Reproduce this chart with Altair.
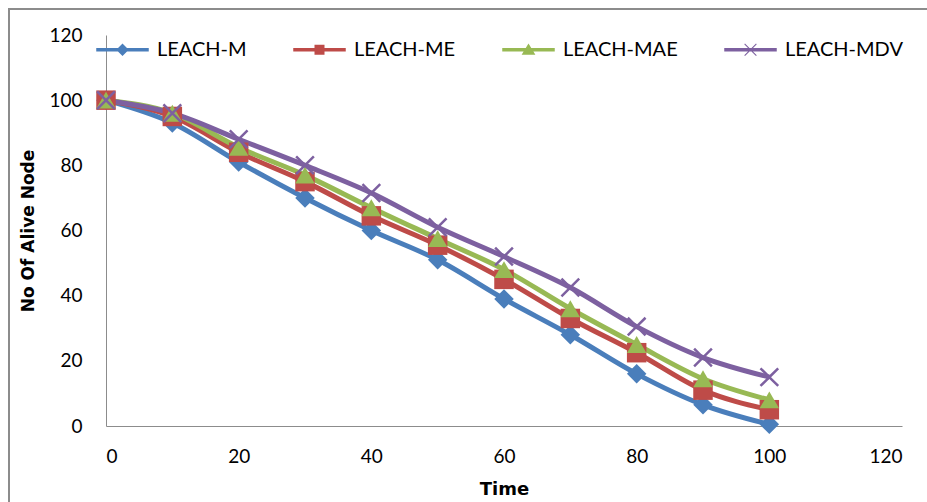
import altair as alt
import pandas as pd

time = [0, 10, 20, 30, 40, 50, 60, 70, 80, 90, 100]
leach_m = [100, 93, 81, 70, 60, 51, 39, 28, 16, 6.5, 0.5]
leach_me = [100, 95, 84, 75, 64.5, 55.5, 45, 33, 22.5, 11, 5]
leach_mae = [100, 96, 85.5, 77, 67, 57.5, 48, 36, 25, 14.5, 8]
leach_mdv = [100, 96, 88, 80, 71.5, 61, 52, 42.5, 30.5, 21, 15]

series = ["LEACH-M", "LEACH-ME", "LEACH-MAE", "LEACH-MDV"]
colors = ["#4A7EBB", "#BE4B48", "#98B954", "#7D60A0"]

xshape = "M-1,-0.82L-0.82,-1L0,-0.18L0.82,-1L1,-0.82L0.18,0L1,0.82L0.82,1L0,0.18L-0.82,1L-1,0.82L-0.18,0Z"
shapes = ["diamond", "square", "triangle-up", xshape]

bar = "M-2.1,-0.14L2.1,-0.14L2.1,0.14L-2.1,0.14Z"
legend_shapes = [
    bar + "M0,-0.5L0.5,0L0,0.5L-0.5,0Z",
    bar + "M-0.4,-0.4L0.4,-0.4L0.4,0.4L-0.4,0.4Z",
    bar + "M0,-0.5L0.55,0.4L-0.55,0.4Z",
    bar + "M-0.5,-0.44L-0.44,-0.5L0,-0.06L0.44,-0.5L0.5,-0.44L0.06,0L0.5,0.44L0.44,0.5L0,0.06L-0.44,0.5L-0.5,0.44L-0.06,0Z",
]

rows = []
for name, vals in zip(series, [leach_m, leach_me, leach_mae, leach_mdv]):
    for t, v in zip(time, vals):
        rows.append({"Time": t, "Alive": v, "Series": name})
df = pd.DataFrame(rows)

FONT = "Lato"
TFONT = "DejaVu Sans"

legend = alt.Legend(
    title=None, orient="none", legendX=4, legendY=2, direction="horizontal",
    labelFont=FONT, labelFontSize=20, labelColor="#000000", symbolSize=625,
    columnPadding=46, symbolStrokeWidth=0, symbolOpacity=1, labelOffset=22, padding=0,
)

color_scale = alt.Scale(domain=series, range=colors)

x = alt.X("Time:Q", scale=alt.Scale(domain=[0, 120], nice=False),
          axis=alt.Axis(values=[0, 20, 40, 60, 80, 100, 120], title="Time", grid=False,
                        ticks=False, labelPadding=21, titlePadding=14, titleFontSize=18,
                        domainColor="#8c8c8c"))
y = alt.Y("Alive:Q", scale=alt.Scale(domain=[0, 120], nice=False),
          axis=alt.Axis(values=[0, 20, 40, 60, 80, 100, 120], title="No Of Alive Node", grid=False,
                        ticks=False, labelPadding=24, titlePadding=11, titleFontSize=17,
                        domainColor="#8c8c8c"))

lines = alt.Chart(df).mark_line(interpolate="monotone", strokeWidth=5).encode(
    x=x, y=y, color=alt.Color("Series:N", scale=color_scale, legend=None), detail="Series:N"
)
points = alt.Chart(df).mark_point(filled=True, size=380, opacity=1).encode(
    x=x, y=y,
    color=alt.Color("Series:N", scale=color_scale, legend=None),
    shape=alt.Shape("Series:N", scale=alt.Scale(domain=series, range=shapes), legend=None),
)
legend_layer = alt.Chart(df).transform_filter("false").mark_point(filled=True).encode(
    x=x, y=y,
    color=alt.Color("Series:N", scale=color_scale, legend=legend, sort=series),
    shape=alt.Shape("Series:N", scale=alt.Scale(domain=series, range=legend_shapes), legend=legend, sort=series),
)

border = alt.Chart(pd.DataFrame({"a": [0]})).mark_rect(
    fill=None, stroke="#8c8c8c", strokeWidth=2
).encode(x=alt.value(-97), x2=alt.value(840), y=alt.value(-26), y2=alt.value(490))

chart = alt.layer(border, lines, points, legend_layer).resolve_scale(
    color="independent", shape="independent"
).properties(
    width=796, height=391,
    autosize=alt.AutoSizeParams(type="none"),
    padding={"left": 106, "top": 35, "right": 25, "bottom": 76},
).configure_view(stroke=None).configure_axis(
    labelFont=FONT, labelFontSize=19, labelColor="#000000",
    titleFont=TFONT, titleFontWeight="bold", titleColor="#000000",
)

chart.save("out.html", embed_options={"renderer": "svg", "actions": False})
